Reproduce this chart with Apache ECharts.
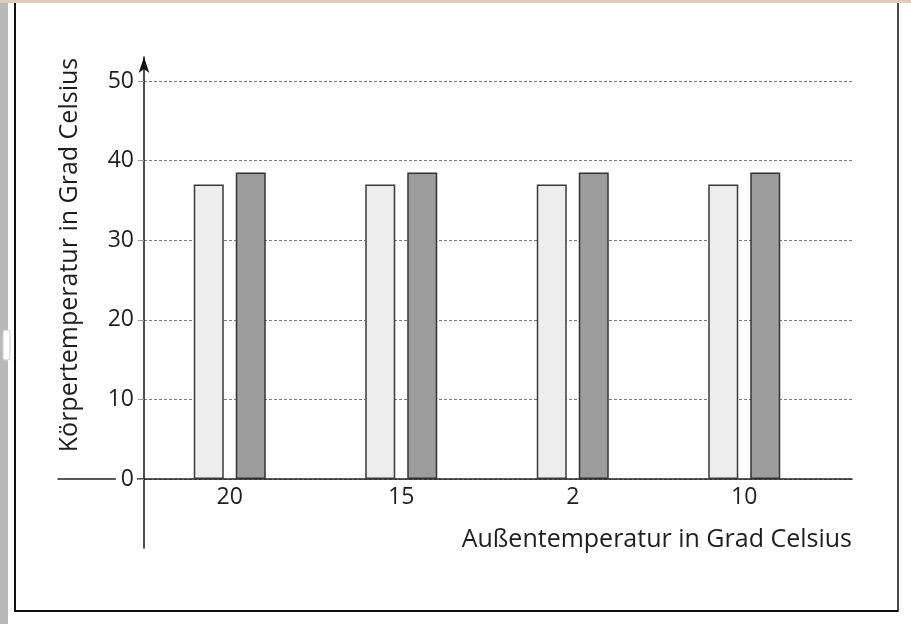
<!DOCTYPE html>
<html>
<head>
<meta charset="utf-8">
<script src="https://cdn.jsdelivr.net/npm/echarts@6/dist/echarts.min.js"></script>
<style>
  html, body { margin: 0; padding: 0; background: #fff; }
  #chart { width: 911px; height: 624px; }
</style>
</head>
<body>
<div id="chart"></div>
<script>
// Außentemperatur (Kategorien) und Körpertemperatur (zwei Balken je Gruppe)
const categories = ['20', '15', '2', '10'];
const lightValues = [37, 37, 37, 37];
const darkValues = [38.5, 38.5, 38.5, 38.5];
const yTicks = { min: 0, max: 50, interval: 10 };

const fontFamily = '"Open Sans", "Noto Sans", sans-serif';
const textColor = '#1e1e1e';

const chart = echarts.init(document.getElementById('chart'));

const option = {
  backgroundColor: '#fff',
  animation: false,
  grid: [
    // bars + y labels
    { left: 144, top: 81, width: 686, height: 398 },
    // horizontal grid lines
    { left: 144, top: 81, width: 708, height: 398 },
    // zero line, longer to the left
    { left: 58, top: 81, width: 794, height: 398 },
    // y axis line with arrow
    { left: 144, top: 57, width: 10, height: 491 }
  ],
  xAxis: [
    {
      gridIndex: 0,
      type: 'category',
      data: categories,
      axisLine: { show: false },
      axisTick: { show: false },
      axisLabel: { fontSize: 23, color: textColor, fontFamily: fontFamily, margin: 7 }
    },
    { gridIndex: 1, type: 'value', min: 0, max: 1, show: false },
    {
      gridIndex: 2,
      type: 'value',
      min: 0,
      max: 1,
      position: 'bottom',
      axisLine: { show: true, onZero: false, lineStyle: { color: '#222', width: 1.5 } },
      axisTick: { show: false },
      axisLabel: { show: false },
      splitLine: { show: false }
    },
    { gridIndex: 3, type: 'value', min: 0, max: 1, show: false }
  ],
  yAxis: [
    {
      gridIndex: 0,
      type: 'value',
      min: yTicks.min,
      max: yTicks.max,
      interval: yTicks.interval,
      z: 5,
      axisLine: { show: false },
      axisTick: { show: true, length: 6, lineStyle: { color: '#999' } },
      splitLine: { show: false },
      axisLabel: {
        fontSize: 23,
        color: textColor,
        fontFamily: fontFamily,
        margin: 7,
        backgroundColor: '#fff',
        padding: [0, 3, 0, 5]
      }
    },
    {
      gridIndex: 1,
      type: 'value',
      min: yTicks.min,
      max: yTicks.max,
      interval: yTicks.interval,
      axisLine: { show: false },
      axisTick: { show: false },
      axisLabel: { show: false },
      splitLine: { show: true, lineStyle: { color: '#7a7a7a', type: [3, 2], width: 1 } }
    },
    { gridIndex: 2, type: 'value', min: yTicks.min, max: yTicks.max, show: false },
    {
      gridIndex: 3,
      type: 'value',
      min: 0,
      max: 1,
      position: 'left',
      axisLine: {
        show: true,
        onZero: false,
        symbol: ['none', 'arrow'],
        symbolSize: [8, 16],
        lineStyle: { color: '#111', width: 1.5 }
      },
      axisTick: { show: false },
      axisLabel: { show: false },
      splitLine: { show: false }
    }
  ],
  series: [
    {
      type: 'bar',
      xAxisIndex: 0,
      yAxisIndex: 0,
      data: lightValues,
      barWidth: 30,
      barGap: '40%',
      itemStyle: { color: '#ededed', borderColor: '#3a3a3a', borderWidth: 1.5 }
    },
    {
      type: 'bar',
      xAxisIndex: 0,
      yAxisIndex: 0,
      data: darkValues,
      barWidth: 30,
      barGap: '40%',
      itemStyle: { color: '#9d9d9d', borderColor: '#333', borderWidth: 1.5 }
    }
  ],
  graphic: [
    // page frame of the scan
    { type: 'rect', shape: { x: 0, y: 0, width: 8, height: 624 }, style: { fill: '#b9b9b9' }, silent: true },
    { type: 'rect', shape: { x: 3, y: 330, width: 7, height: 30, r: 2 }, style: { fill: '#fff', stroke: '#ccc' }, silent: true },
    { type: 'rect', shape: { x: 0, y: 0, width: 911, height: 3 }, style: { fill: '#d9cfb4' }, silent: true },
    { type: 'line', shape: { x1: 15, y1: 3, x2: 15, y2: 612 }, style: { stroke: '#111', lineWidth: 2 }, silent: true },
    { type: 'line', shape: { x1: 898, y1: 3, x2: 898, y2: 612 }, style: { stroke: '#111', lineWidth: 1.5 }, silent: true },
    { type: 'line', shape: { x1: 15, y1: 611, x2: 898, y2: 611 }, style: { stroke: '#111', lineWidth: 2 }, silent: true },
    // axis titles
    {
      type: 'text',
      x: 70,
      y: 255,
      rotation: Math.PI / 2,
      style: {
        text: 'Körpertemperatur in Grad Celsius',
        fontSize: 25,
        fontFamily: fontFamily,
        fill: textColor,
        align: 'center',
        verticalAlign: 'middle'
      }
    },
    {
      type: 'text',
      x: 852,
      y: 540,
      style: {
        text: 'Außentemperatur in Grad Celsius',
        fontSize: 25,
        fontFamily: fontFamily,
        fill: textColor,
        align: 'right',
        verticalAlign: 'middle'
      }
    }
  ]
};

chart.setOption(option);
</script>
</body>
</html>
